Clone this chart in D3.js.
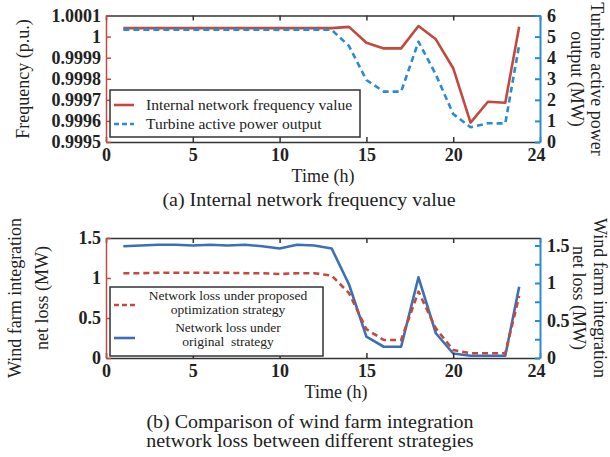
<!DOCTYPE html>
<html lang="en">
<head>
<meta charset="UTF-8">
<title>Frequency and network loss</title>
<script src="https://d3js.org/d3.v7.min.js"></script>
<style>
  body { margin: 0; background: #fff; }
  text { font-family: "Liberation Serif", "Times New Roman", serif; fill: #222; }
  .tick text { font-weight: bold; font-size: 18px; fill: #222; }
</style>
</head>
<body>
<script>
// ---- data ----
var hours = [1, 2, 3, 4, 5, 6, 7, 8, 9, 10, 11, 12, 13, 14, 15, 16, 17, 18, 19, 20, 21, 22, 23, 23.8];

// (a) internal network frequency (p.u.) and turbine active power output (MW)
var freqValues = [1.00004, 1.00004, 1.00004, 1.00004, 1.00004, 1.00004, 1.00004, 1.00004, 1.00004, 1.00004,
    1.00004, 1.00004, 1.00004, 1.000046, 0.999971, 0.999944, 0.999944, 1.00005, 0.999987, 0.99985,
    0.999592, 0.999691, 0.999686, 1.000047];
var turbineOutput = [5.33, 5.33, 5.33, 5.33, 5.33, 5.33, 5.33, 5.33, 5.33, 5.32,
    5.33, 5.33, 5.32, 4.55, 2.94, 2.39, 2.39, 4.76, 3.2, 1.33,
    0.7, 0.89, 0.88, 4.6];

// (b) wind farm integration net loss (MW)
var proposedLoss = [1.06, 1.06, 1.065, 1.065, 1.065, 1.065, 1.065, 1.06, 1.06, 1.05,
    1.06, 1.06, 1.03, 0.81, 0.36, 0.225, 0.225, 0.83, 0.37, 0.1,
    0.06, 0.06, 0.06, 0.775];
var originalLoss = [1.49, 1.5, 1.51, 1.51, 1.5, 1.51, 1.5, 1.51, 1.49, 1.46,
    1.51, 1.5, 1.46, 0.98, 0.284, 0.15, 0.15, 1.076, 0.33, 0.06,
    0.03, 0.03, 0.03, 0.95];

// ticks
var xTicks = [0, 5, 10, 15, 20, 25];
var xTickLabels = ["0", "5", "10", "15", "20", "24"];
var freqTicks = [0.9995, 0.9996, 0.9997, 0.9998, 0.9999, 1, 1.0001];
var freqTickLabels = ["0.9995", "0.9996", "0.9997", "0.9998", "0.9999", "1", "1.0001"];
var powerTicks = [0, 1, 2, 3, 4, 5, 6];
var lossTicks = [0, 0.5, 1, 1.5];
var lossTickLabels = ["0", "0.5", "1", "1.5"];
var lossRightTicks = [0, 0.25, 0.5, 0.75, 1, 1.25, 1.5];

var red = "#c4493d";
var blueA = "#2a8ad4";
var blueB = "#3b6fb6";
var frameColor = "#333";

var svg = d3.select("body").append("svg")
    .attr("width", 610)
    .attr("height", 457);

var left = 106, right = 540;
var xScale = d3.scaleLinear().domain([0, 25]).range([left, right]);

function drawFrame(top, bottom, yLeft, yRight, leftTicks, leftLabels, rightTicks, rightFormat) {
    // x axis bottom with inward ticks
    var xb = svg.append("g")
        .attr("transform", "translate(0," + bottom + ")")
        .call(d3.axisBottom(xScale).tickValues(xTicks)
            .tickFormat(function (d, i) { return xTickLabels[i]; })
            .tickSize(-5).tickSizeOuter(0).tickPadding(3));
    xb.selectAll("path, line").attr("stroke", frameColor).attr("stroke-width", 1.5);
    xb.selectAll("text").attr("dy", "0.9em");
    // last label sits just inside the right axis
    xb.selectAll(".tick text").filter(function (d) { return d === 25; }).attr("dx", -4);

    var xt = svg.append("g")
        .attr("transform", "translate(0," + top + ")")
        .call(d3.axisTop(xScale).tickValues(xTicks).tickFormat("")
            .tickSize(-5).tickSizeOuter(0));
    xt.selectAll("path, line").attr("stroke", frameColor).attr("stroke-width", 1.5);

    var yl = svg.append("g")
        .attr("transform", "translate(" + left + ",0)")
        .call(d3.axisLeft(yLeft).tickValues(leftTicks)
            .tickFormat(function (d, i) { return leftLabels[i]; })
            .tickSize(-5).tickSizeOuter(0).tickPadding(5));
    yl.selectAll("path, line").attr("stroke", red).attr("stroke-width", 1.5);

    var yr = svg.append("g")
        .attr("transform", "translate(" + right + ",0)")
        .call(d3.axisRight(yRight).tickValues(rightTicks)
            .tickFormat(rightFormat)
            .tickSize(-5).tickSizeOuter(0).tickPadding(7));
    yr.selectAll("path, line").attr("stroke", blueA).attr("stroke-width", 2);
}

function drawLine(values, yScale, color, dash) {
    var line = d3.line()
        .x(function (d, i) { return xScale(hours[i]); })
        .y(function (d) { return yScale(d); });
    svg.append("path")
        .datum(values)
        .attr("d", line)
        .attr("fill", "none")
        .attr("stroke", color)
        .attr("stroke-width", 2.6)
        .attr("stroke-linejoin", "round")
        .attr("stroke-dasharray", dash ? "6,4" : null);
}

function rotatedText(x, y, angle, str, size) {
    svg.append("text")
        .attr("transform", "translate(" + x + "," + y + ") rotate(" + angle + ")")
        .attr("text-anchor", "middle")
        .style("font-size", size + "px")
        .text(str);
}

// captions in the original are wide but short: measure at 20px, draw at 18.5px stretched to that width
function caption(x, y, str) {
    var t = svg.append("text").attr("x", x).attr("y", y).attr("text-anchor", "middle")
        .style("font-size", "20px").text(str);
    var w = t.node().getComputedTextLength();
    t.style("font-size", "18.5px").attr("textLength", w).attr("lengthAdjust", "spacingAndGlyphs");
}

// ---- panel (a) ----
var topA = 15.5, bottomA = 142;
var yFreq = d3.scaleLinear().domain([0.9995, 1.0001]).range([bottomA, topA]);
var yPower = d3.scaleLinear().domain([0, 6]).range([bottomA, topA]);

drawLine(freqValues, yFreq, red, false);
drawLine(turbineOutput, yPower, blueA, true);
drawFrame(topA, bottomA, yFreq, yPower, freqTicks, freqTickLabels, powerTicks, d3.format("d"));

// legend (a)
svg.append("rect").attr("x", 110).attr("y", 90).attr("width", 250).attr("height", 47)
    .attr("fill", "#fff").attr("stroke", frameColor).attr("stroke-width", 1.5);
svg.append("line").attr("x1", 114).attr("x2", 134).attr("y1", 105).attr("y2", 105)
    .attr("stroke", red).attr("stroke-width", 2.6);
svg.append("line").attr("x1", 114).attr("x2", 134).attr("y1", 124).attr("y2", 124)
    .attr("stroke", blueA).attr("stroke-width", 2.6).attr("stroke-dasharray", "5,3");
svg.append("text").attr("x", 146).attr("y", 110).style("font-size", "15.5px").text("Internal network frequency value");
svg.append("text").attr("x", 146).attr("y", 129).style("font-size", "15.5px").text("Turbine active power output");

rotatedText(29, 79, -90, "Frequency (p.u.)", 18);
rotatedText(591, 79, 90, "Turbine active power", 18);
rotatedText(571, 79, 90, "output (MW)", 18);
svg.append("text").attr("x", 323).attr("y", 182).attr("text-anchor", "middle").style("font-size", "18px").text("Time (h)");
caption(309, 206, "(a) Internal network frequency value");

// ---- panel (b) ----
var topB = 238, bottomB = 358;
var yLossL = d3.scaleLinear().domain([0, 1.5]).range([bottomB, topB]);
var yLossR = d3.scaleLinear().domain([0, 1.6]).range([bottomB, topB]);

drawLine(originalLoss, yLossR, blueB, false);
drawLine(proposedLoss, yLossL, red, true);
drawFrame(topB, bottomB, yLossL, yLossR, lossTicks, lossTickLabels, lossRightTicks,
    function (d) { return (d * 2) % 1 === 0 ? d3.format("")(d) : ""; });

// legend (b)
svg.append("rect").attr("x", 110).attr("y", 287).attr("width", 213).attr("height", 69)
    .attr("fill", "#fff").attr("stroke", frameColor).attr("stroke-width", 1.5);
svg.append("line").attr("x1", 114).attr("x2", 135).attr("y1", 305).attr("y2", 305)
    .attr("stroke", red).attr("stroke-width", 2.6).attr("stroke-dasharray", "5,3");
svg.append("line").attr("x1", 114).attr("x2", 135).attr("y1", 338).attr("y2", 338)
    .attr("stroke", blueB).attr("stroke-width", 2.6);
var legB = [
    ["Network loss under proposed", 300],
    ["optimization strategy", 314],
    ["Network loss under", 332],
    ["original  strategy", 346]
];
svg.selectAll(".legb").data(legB).enter().append("text")
    .attr("class", "legb")
    .attr("x", 228).attr("y", function (d) { return d[1]; })
    .attr("text-anchor", "middle")
    .style("font-size", "13.5px").style("white-space", "pre")
    .text(function (d) { return d[0]; });

rotatedText(21, 298, -90, "Wind farm integration", 18);
rotatedText(48, 298, -90, "net loss (MW)", 18);
rotatedText(594, 298, 90, "Wind farm integration", 18);
rotatedText(573, 298, 90, "net loss (MW)", 18);
svg.append("text").attr("x", 336).attr("y", 398).attr("text-anchor", "middle").style("font-size", "18px").text("Time (h)");
caption(310, 428, "(b) Comparison of wind farm integration");
caption(310, 447, "network loss between different strategies");
</script>
</body>
</html>
